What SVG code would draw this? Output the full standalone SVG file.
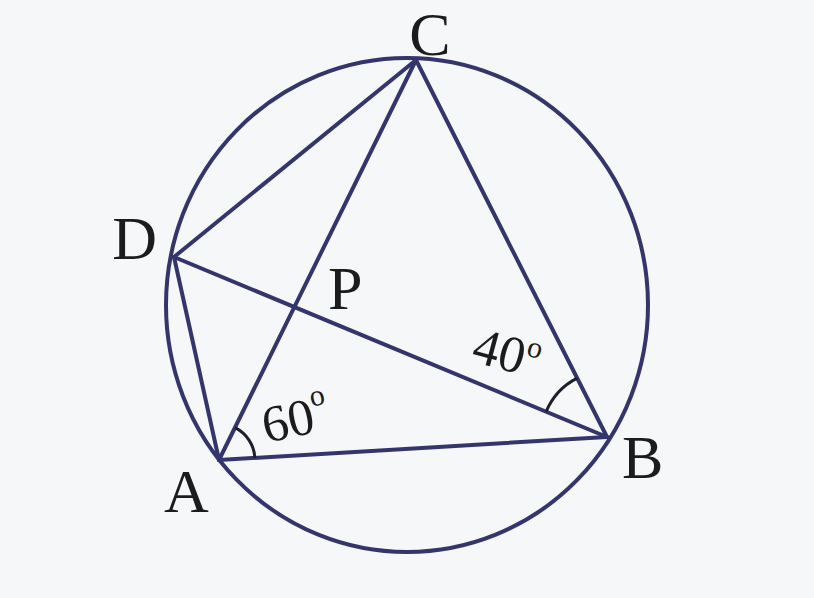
<svg xmlns="http://www.w3.org/2000/svg" width="814" height="598" viewBox="0 0 814 598">
<style>
.ln{stroke:#33356c;stroke-width:4;fill:none;stroke-linecap:round}
.arc{stroke:#1e2030;stroke-width:3;fill:none}
.lbl{font-family:"Liberation Serif","Times New Roman",serif;font-size:62px;fill:#1c1c1c}
.ang{font-family:"Liberation Serif","Times New Roman",serif;font-size:52px;fill:#1c1c1c}
</style>
<rect width="814" height="598" fill="#f5f7f9"/>
<g id="circle">
<ellipse class="ln" cx="407" cy="305" rx="241" ry="247"/>
</g>
<g id="connectors">
<line class="ln" x1="416" y1="60" x2="174" y2="257"/>
<line class="ln" x1="416" y1="60" x2="219" y2="460"/>
<line class="ln" x1="416" y1="60" x2="607" y2="437"/>
<line class="ln" x1="174" y1="257" x2="607" y2="437"/>
<line class="ln" x1="174" y1="257" x2="219" y2="460"/>
<line class="ln" x1="219" y1="460" x2="607" y2="437"/>
</g>
<g id="angle-A">
<path class="arc" d="M235 427.7 A36 36 0 0 1 254.9 457.9"/>
<text class="ang" x="266" y="443" transform="rotate(-12 266 443)">60<tspan font-size="30" dy="-26">o</tspan></text>
</g>
<g id="angle-B">
<path class="arc" d="M546.1 411.7 A66 66 0 0 1 577.2 378.1"/>
<text class="ang" x="470" y="361" transform="rotate(15 470 361)">40<tspan font-size="30" dy="-20">o</tspan></text>
</g>
<g id="node-C"><text class="lbl" x="430" y="55" text-anchor="middle" font-size="54">C</text></g>
<g id="node-D"><text class="lbl" x="157" y="259" text-anchor="end">D</text></g>
<g id="node-P"><text class="lbl" x="328" y="309">P</text></g>
<g id="node-A"><text class="lbl" x="164" y="512">A</text></g>
<g id="node-B"><text class="lbl" x="622" y="478">B</text></g>
</svg>
